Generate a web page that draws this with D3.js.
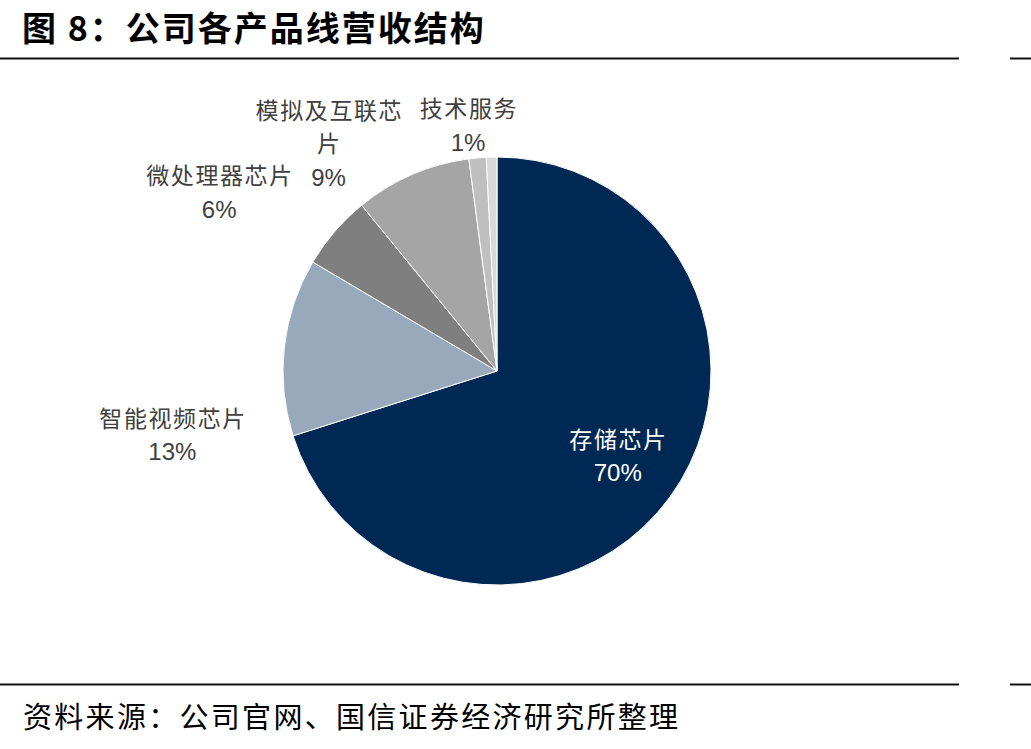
<!DOCTYPE html>
<html>
<head>
<meta charset="utf-8">
<script src="https://cdn.jsdelivr.net/npm/d3@7"></script>
<style>
  html, body { margin: 0; padding: 0; background: #fff; }
  svg { display: block; }
</style>
</head>
<body>
<div id="chart"></div>
<script>
// data
const categories = ["存储芯片", "智能视频芯片", "微处理器芯片", "模拟及互联芯片", "技术服务", "其他"];
const shares = [70.1, 13.4, 5.6, 8.8, 1.3, 0.8];
const showLabel = [true, true, true, true, true, false];

const colors = ["#002855", "#97a9ba", "#7f7f7f", "#a5a5a5", "#bfbfbf", "#d9d9d9"];

// label placement: radius factor and angular nudge (deg) from slice middle
const labelRadius = [0.69, 1.547, 1.542, 1.32, 1.154, 1.2];
const labelNudge = [-1, -17.7, -8, -13.2, -1.5, 0];

const W = 1031, H = 749;
const cx = 497, cy = 371, r = 214;
const lineH = 33;
const cjk = "'Noto Sans CJK SC', sans-serif";
const num = "'Liberation Sans', Arial, sans-serif";

const svg = d3.select("#chart").append("svg").attr("width", W).attr("height", H);

// title + rules
svg.append("text")
    .attr("x", 22).attr("y", 41)
    .style("font-family", cjk).style("font-weight", "bold").style("font-size", "34px")
    .style("letter-spacing", "2px")
    .style("fill", "#000")
    .text("图 8：公司各产品线营收结构");

[58.5, 684.5].forEach(y => {
    svg.append("line").attr("x1", 0).attr("x2", 959).attr("y1", y).attr("y2", y)
        .style("stroke", "#111").style("stroke-width", 2);
    svg.append("line").attr("x1", 1010).attr("x2", W).attr("y1", y).attr("y2", y)
        .style("stroke", "#111").style("stroke-width", 2);
});

svg.append("text")
    .attr("x", 23).attr("y", 728)
    .style("font-family", cjk).style("font-size", "29px")
    .style("letter-spacing", "2.3px")
    .style("fill", "#000")
    .text("资料来源：公司官网、国信证券经济研究所整理");

// pie
const data = categories.map((c, i) => ({name: c, value: shares[i], i}));
const pie = d3.pie().sort(null).value(d => d.value);
const arcs = pie(data);
const arc = d3.arc().innerRadius(0).outerRadius(r);

const g = svg.append("g").attr("transform", `translate(${cx}, ${cy})`);

g.selectAll("path").data(arcs).enter().append("path")
    .attr("d", arc)
    .style("fill", d => colors[d.data.i])
    .style("stroke", "#fff")
    .style("stroke-width", 1)
    .style("stroke-linejoin", "round");

// wrap names at 6 characters, like the reference
const wrap = s => {
    const out = [];
    for (let k = 0; k < s.length; k += 6) out.push(s.slice(k, k + 6));
    return out;
};

const labels = g.selectAll("g.label").data(arcs.filter(d => showLabel[d.data.i])).enter().append("g")
    .attr("class", "label")
    .attr("transform", d => {
        const a = (d.startAngle + d.endAngle) / 2 + labelNudge[d.data.i] * Math.PI / 180;
        const rr = r * labelRadius[d.data.i];
        return `translate(${(Math.sin(a) * rr).toFixed(1)}, ${(-Math.cos(a) * rr).toFixed(1)})`;
    });

labels.each(function(d) {
    const lines = wrap(d.data.name);
    const pct = Math.round(d.data.value) + "%";
    const n = lines.length + 1;
    const fill = d.data.i === 0 ? "#ffffff" : "#404040";
    const sel = d3.select(this);
    lines.concat([pct]).forEach((t, k) => {
        const isName = k < lines.length;
        sel.append("text")
            .attr("x", isName ? 0.8 : 0)
            .attr("y", (k - (n - 1) / 2) * lineH)
            .attr("dy", "0.35em")
            .attr("text-anchor", "middle")
            .style("font-family", isName ? cjk : num)
            .style("font-size", isName ? "23px" : "24px")
            .style("letter-spacing", isName ? "1.6px" : "0px")
            .style("fill", fill)
            .text(t);
    });
});
</script>
</body>
</html>
